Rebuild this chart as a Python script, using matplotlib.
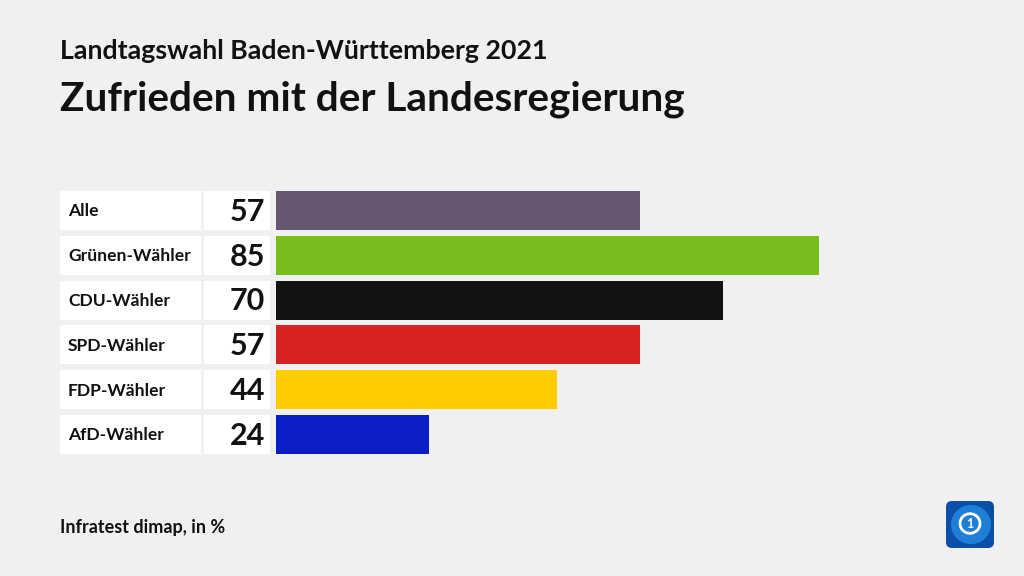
import matplotlib.pyplot as plt
from matplotlib.patches import FancyBboxPatch, Circle

groups = ['Alle', 'Grünen-Wähler', 'CDU-Wähler', 'SPD-Wähler', 'FDP-Wähler', 'AfD-Wähler']
values = [57, 85, 70, 57, 44, 24]
colors = ['#67566f', '#78bc1e', '#121212', '#d82121', '#ffcc00', '#0a1fc6']

subtitle = 'Landtagswahl Baden-Württemberg 2021'
title = 'Zufrieden mit der Landesregierung'
source = 'Infratest dimap, in %'

plt.rcParams['font.family'] = ['Lato', 'DejaVu Sans']

W, H = 1024, 576
fig = plt.figure(figsize=(W / 100, H / 100), dpi=100)
fig.patch.set_facecolor('#f0f0f0')

# bar area: full width, rows from y=191 to y=454 px
px_per_unit = 6.386
x0 = 276
ax = fig.add_axes([0, 1 - 454 / H, 1, (454 - 191) / H])
ax.set_facecolor('none')
ax.set_xlim(-x0 / px_per_unit, (W - x0) / px_per_unit)
h = 0.872
ax.set_ylim(5 + h / 2, -h / 2)
ax.axis('off')

ys = list(range(len(groups)))
lab_l = (60 - x0) / px_per_unit
lab_w = (201 - 60) / px_per_unit
val_l = (204 - x0) / px_per_unit
val_w = (270 - 204) / px_per_unit

ax.barh(ys, [lab_w] * len(ys), left=lab_l, height=h, color='white')
ax.barh(ys, [val_w] * len(ys), left=val_l, height=h, color='white')
ax.barh(ys, values, left=0, height=h, color=colors)

for y, g, v in zip(ys, groups, values):
    ax.text((68 - x0) / px_per_unit, y + 0.02, g, ha='left', va='center',
            fontsize=12.6, fontweight='bold', color='#111111')
    ax.text((265 - x0) / px_per_unit, y + 0.03, str(v), ha='right', va='center',
            fontsize=22, fontweight='bold', color='#111111')

fig.text(60 / W, 1 - 51 / H, subtitle, ha='left', va='center',
         fontsize=19.3, fontweight='bold', color='#111111')
fig.text(60 / W, 1 - 99 / H, title, ha='left', va='center',
         fontsize=29.2, fontweight='bold', color='#111111')
fig.text(60 / W, 1 - 528 / H, source, ha='left', va='center',
         fontsize=13, fontweight='bold', color='#111111')

# logo
lax = fig.add_axes([945 / W, 1 - 549 / H, 50 / W, 49 / H])
lax.set_xlim(0, 1)
lax.set_ylim(0, 1)
lax.axis('off')
lax.add_patch(FancyBboxPatch((0.02, 0.02), 0.96, 0.96,
                             boxstyle='round,pad=0,rounding_size=0.12',
                             facecolor='#0b4fa8', edgecolor='none'))
lax.add_patch(Circle((0.52, 0.5), 0.4, facecolor='#1f7fd6', edgecolor='none'))
lax.add_patch(Circle((0.5, 0.52), 0.2, facecolor='none', edgecolor='white', linewidth=2))
lax.text(0.5, 0.52, '1', ha='center', va='center', fontsize=9,
         fontweight='bold', color='white')

fig.savefig('out.png', dpi=100, facecolor=fig.get_facecolor())
